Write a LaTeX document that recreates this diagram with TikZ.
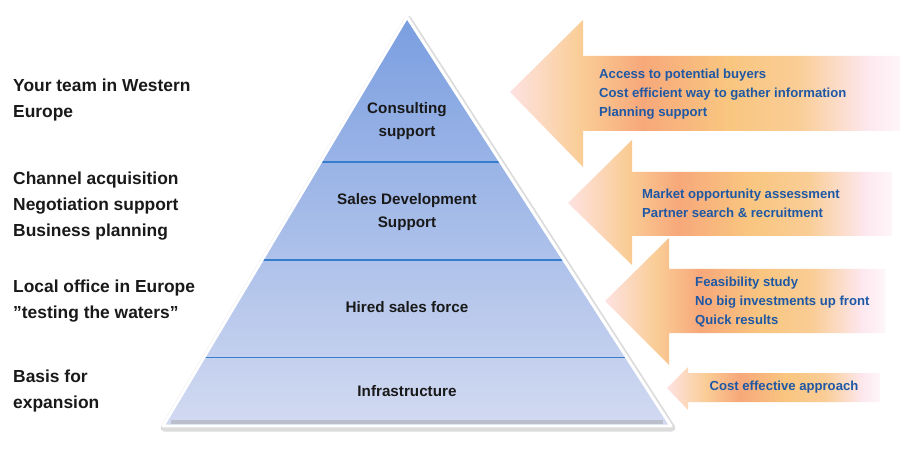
\documentclass[tikz,border=0pt]{standalone}
\usepackage{fontspec}
\setmainfont{Liberation Sans}
\usetikzlibrary{calc}
\definecolor{pyrtop}{RGB}{122,158,224}
\definecolor{pyrbot}{RGB}{210,218,241}
\definecolor{divblue}{RGB}{55,125,205}
\definecolor{textblue}{RGB}{30,88,165}
\definecolor{tippink}{RGB}{253,226,226}
\definecolor{peach}{RGB}{250,205,150}
\definecolor{salmon}{RGB}{247,168,122}
\definecolor{amber}{RGB}{249,198,128}
\definecolor{palepink}{RGB}{253,232,240}
\pgfdeclarehorizontalshading{benefitshade}{100bp}{color(0bp)=(tippink); color(25bp)=(tippink); color(34bp)=(peach); color(42bp)=(salmon); color(53bp)=(amber); color(62bp)=(peach); color(71bp)=(palepink); color(75bp)=(palepink!40!white); color(100bp)=(palepink!40!white)}

\begin{document}
\begin{tikzpicture}[x=0.03cm, y=-0.03cm,
  lefttext/.style={anchor=west, align=left, inner sep=0pt, font=\fontsize{14.85}{22.2}\selectfont\bfseries, text=black!90},
  level/.style={align=center, inner sep=0pt, font=\fontsize{13}{19.6}\selectfont\bfseries, text=black!90},
  benefit/.style={shading=benefitshade, draw=none},
  gaintext/.style={anchor=west, align=left, inner sep=0pt, font=\fontsize{11.2}{16.2}\selectfont\bfseries, text=textblue},
  divider/.style={divblue, line width=1.3pt}
]
  \useasboundingbox[fill=white] (0,0) rectangle (900,460);

  % pyramid
  \coordinate (apex) at (407,17);
  \coordinate (bl) at (163,426);
  \coordinate (br) at (671,426);
  \draw[gray!60, opacity=0.45, line width=6pt, line join=round] ($(apex)+(1,2)$) -- ($(bl)+(1,2)$) -- ($(br)+(1,2)$) -- cycle;
  \shade[top color=pyrtop, bottom color=pyrbot] (apex) -- (bl) -- (br) -- cycle;
  \draw[gray!70, opacity=0.5, line width=3pt] ($(bl)+(8,-4)$) -- ($(br)+(-8,-4)$);
  \draw[divider] ($(apex)!0.3543!(bl)$) -- ($(apex)!0.3543!(br)$);
  \draw[divider] ($(apex)!0.5944!(bl)$) -- ($(apex)!0.5944!(br)$);
  \draw[divider] ($(apex)!0.8331!(bl)$) -- ($(apex)!0.8331!(br)$);
  \draw[white, line width=2.5pt, line join=round] (apex) -- (bl) -- (br) -- cycle;

  \node[level] (consult) at (407,121.5) {Consulting\\support};
  \node[level] (salesdev) at (407,212.5) {Sales Development\\Support};
  \node[level] (hired) at (407,307) {Hired sales force};
  \node[level] (infra) at (407,391) {Infrastructure};

  % left side
  \node[lefttext] (team) at (13,100) {Your team in Western\\Europe};
  \node[lefttext] (channel) at (13,206) {Channel acquisition\\Negotiation support\\Business planning};
  \node[lefttext] (office) at (13,301) {Local office in Europe\\”testing the waters”};
  \node[lefttext] (basis) at (13,391) {Basis for\\expansion};

  % arrows on the right
  \path[benefit] (510,92) -- (583,20) -- (583,56) -- (900,56) -- (900,131) -- (583,131) -- (583,167) -- cycle;
  \path[benefit] (568,203) -- (632,140) -- (632,172) -- (892,172) -- (892,236) -- (632,236) -- (632,265) -- cycle;
  \path[benefit] (605,301) -- (669,238) -- (669,269) -- (885,269) -- (885,333) -- (669,333) -- (669,365) -- cycle;
  \path[benefit] (667,388) -- (688,367) -- (688,373) -- (880,373) -- (880,402) -- (688,402) -- (688,410) -- cycle;

  \node[gaintext] (buyers) at (599,94) {Access to potential buyers\\Cost efficient way to gather information\\Planning support};
  \node[gaintext] (market) at (642,203.5) {Market opportunity assessment\\Partner search \& recruitment};
  \node[gaintext] (feasib) at (695,302) {Feasibility study\\No big investments up front\\Quick results};
  \node[gaintext, anchor=center] (costeff) at (784,387) {Cost effective approach};
\end{tikzpicture}
\end{document}
